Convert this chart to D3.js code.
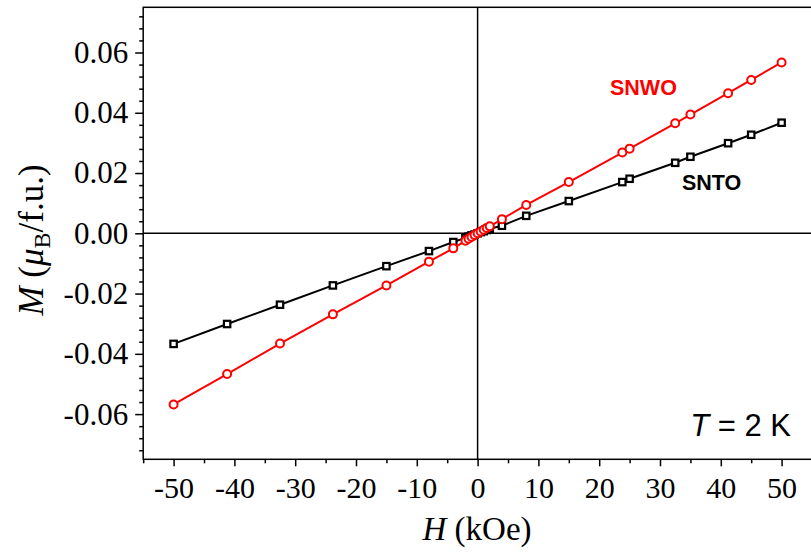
<!DOCTYPE html>
<html>
<head>
<meta charset="utf-8">
<script src="https://cdn.jsdelivr.net/npm/d3@7"></script>
<style>
  body { margin: 0; background: #fff; }
  svg { display: block; }
  .axis text { font-family: "Liberation Serif", "Times New Roman", serif; font-size: 30px; fill: #000; }
  .axis.y text { font-size: 31px; }
  .axis path, .axis line { stroke: #000; stroke-width: 1.5; }
</style>
</head>
<body>
<div class="display"></div>
<script>
const width = 811;
const height = 554;

// field values (kOe)
const fieldH = [-50, -41.2, -32.5, -23.8, -15, -8, -4, -2, -1.5, -1, -0.5, 0, 0.5, 1, 1.5, 2, 4, 8, 15, 23.8, 25, 32.5, 35, 41.2, 45, 50];
// magnetization (muB/f.u.)
const snwoM = [-0.0568, -0.0467, -0.0366, -0.0269, -0.0173, -0.0094, -0.0050, -0.0025, -0.0018, -0.0012, -0.0006, 0, 0.0006, 0.0012, 0.0018, 0.0023, 0.0047, 0.0094, 0.0170, 0.0268, 0.0281, 0.0365, 0.0394, 0.0465, 0.0509, 0.0567];
const sntoM = [-0.0367, -0.0301, -0.0237, -0.0173, -0.0109, -0.0059, -0.0029, -0.0015, -0.0011, -0.0007, -0.0004, 0, 0.0004, 0.0007, 0.0011, 0.0015, 0.0025, 0.0058, 0.0107, 0.0170, 0.0181, 0.0234, 0.0254, 0.0299, 0.0327, 0.0367];

const xTicks = [-50, -40, -30, -20, -10, 0, 10, 20, 30, 40, 50];
const xMinor = [-55, -45, -35, -25, -15, -5, 5, 15, 25, 35, 45, 55];
const yTicks = [-0.06, -0.04, -0.02, 0, 0.02, 0.04, 0.06];
const yMinor = [-0.072, -0.068, -0.064, -0.056, -0.052, -0.048, -0.044, -0.036, -0.032, -0.028, -0.024,
  -0.016, -0.012, -0.008, -0.004, 0.004, 0.008, 0.012, 0.016, 0.024, 0.028, 0.032, 0.036,
  0.044, 0.048, 0.052, 0.056, 0.064, 0.068, 0.072];

const plotLeft = 143.2, plotRight = 812, plotTop = 7.3, plotBottom = 459.3;

const svg = d3.select('.display')
  .append('svg')
  .attr('width', width)
  .attr('height', height);

const x = d3.scaleLinear().domain([-55, 55]).range([plotLeft, plotRight]);
const y = d3.scaleLinear().domain([-0.075, 0.075]).range([plotBottom, plotTop]);

// minor ticks
svg.append('g')
  .attr('class', 'axis')
  .attr('transform', `translate(0, ${plotBottom})`)
  .call(d3.axisBottom(x).tickValues(xMinor).tickSize(4).tickFormat(''))
  .call(g => g.select('.domain').remove());
svg.append('g')
  .attr('class', 'axis')
  .attr('transform', `translate(${plotLeft}, 0)`)
  .call(d3.axisLeft(y).tickValues(yMinor).tickSize(4).tickFormat(''))
  .call(g => g.select('.domain').remove());

// major ticks
svg.append('g')
  .attr('class', 'axis x')
  .attr('transform', `translate(0, ${plotBottom})`)
  .call(d3.axisBottom(x).tickValues(xTicks).tickSize(7).tickPadding(10).tickFormat(d => String(d)))
  .call(g => g.select('.domain').remove());
svg.append('g')
  .attr('class', 'axis y')
  .attr('transform', `translate(${plotLeft}, 0)`)
  .call(d3.axisLeft(y).tickValues(yTicks).tickSize(8).tickPadding(7).tickFormat(d => d.toFixed(2)))
  .call(g => g.select('.domain').remove());

// frame
svg.append('rect')
  .attr('x', plotLeft)
  .attr('y', plotTop)
  .attr('width', plotRight - plotLeft)
  .attr('height', plotBottom - plotTop)
  .attr('fill', 'none')
  .attr('stroke', '#000')
  .attr('stroke-width', 1.5);

// zero lines
svg.append('line')
  .attr('x1', x(0)).attr('x2', x(0))
  .attr('y1', plotTop).attr('y2', plotBottom)
  .attr('stroke', '#000').attr('stroke-width', 1.5);
svg.append('line')
  .attr('x1', plotLeft).attr('x2', plotRight)
  .attr('y1', y(0)).attr('y2', y(0))
  .attr('stroke', '#000').attr('stroke-width', 1.5);

const line = d3.line().x(d => x(d[0])).y(d => y(d[1]));

// SNTO
const snto = fieldH.map((h, i) => [h, sntoM[i]]);
svg.append('path')
  .datum(snto)
  .attr('d', line)
  .attr('fill', 'none')
  .attr('stroke', '#000')
  .attr('stroke-width', 2);
svg.selectAll('rect.snto')
  .data(snto)
  .enter()
  .append('rect')
  .attr('class', 'snto')
  .attr('x', d => x(d[0]) - 3.2)
  .attr('y', d => y(d[1]) - 3.2)
  .attr('width', 6.4)
  .attr('height', 6.4)
  .attr('fill', '#fff')
  .attr('stroke', '#000')
  .attr('stroke-width', 2.2);

// SNWO
const snwo = fieldH.map((h, i) => [h, snwoM[i]]);
svg.append('path')
  .datum(snwo)
  .attr('d', line)
  .attr('fill', 'none')
  .attr('stroke', '#ff0000')
  .attr('stroke-width', 2);
svg.selectAll('circle.snwo')
  .data(snwo)
  .enter()
  .append('circle')
  .attr('class', 'snwo')
  .attr('cx', d => x(d[0]))
  .attr('cy', d => y(d[1]))
  .attr('r', 4)
  .attr('fill', '#fff')
  .attr('stroke', '#ff0000')
  .attr('stroke-width', 2);

// series labels
svg.append('text')
  .attr('x', 610).attr('y', 95)
  .attr('font-family', 'Liberation Sans, Arial, sans-serif')
  .attr('font-weight', 'bold')
  .attr('font-size', 21.5)
  .attr('fill', '#ff0000')
  .text('SNWO');
svg.append('text')
  .attr('x', 682).attr('y', 190)
  .attr('font-family', 'Liberation Sans, Arial, sans-serif')
  .attr('font-weight', 'bold')
  .attr('font-size', 21.5)
  .attr('fill', '#000')
  .text('SNTO');

// temperature note
const tNote = svg.append('text')
  .attr('x', 791).attr('y', 436)
  .attr('text-anchor', 'end')
  .attr('font-family', 'Liberation Sans, Arial, sans-serif')
  .attr('font-size', 31)
  .attr('fill', '#000');
tNote.append('tspan').attr('font-style', 'italic').text('T');
tNote.append('tspan').text(' = 2 K');

// axis titles
const xTitle = svg.append('text')
  .attr('x', 477).attr('y', 540)
  .attr('text-anchor', 'middle')
  .attr('font-family', 'Liberation Serif, Times New Roman, serif')
  .attr('font-size', 33)
  .attr('fill', '#000');
xTitle.append('tspan').attr('font-style', 'italic').text('H');
xTitle.append('tspan').text(' (kOe)');

const yTitle = svg.append('text')
  .attr('transform', 'translate(43, 240) rotate(-90)')
  .attr('text-anchor', 'middle')
  .attr('font-family', 'Liberation Serif, Times New Roman, serif')
  .attr('font-size', 35)
  .attr('fill', '#000');
yTitle.append('tspan').attr('font-style', 'italic').text('M');
yTitle.append('tspan').text(' (');
yTitle.append('tspan').attr('font-style', 'italic').text('μ');
yTitle.append('tspan').attr('font-size', 24).attr('dy', 7).text('B');
yTitle.append('tspan').attr('dy', -7).text('/f.u.)');
</script>
</body>
</html>
